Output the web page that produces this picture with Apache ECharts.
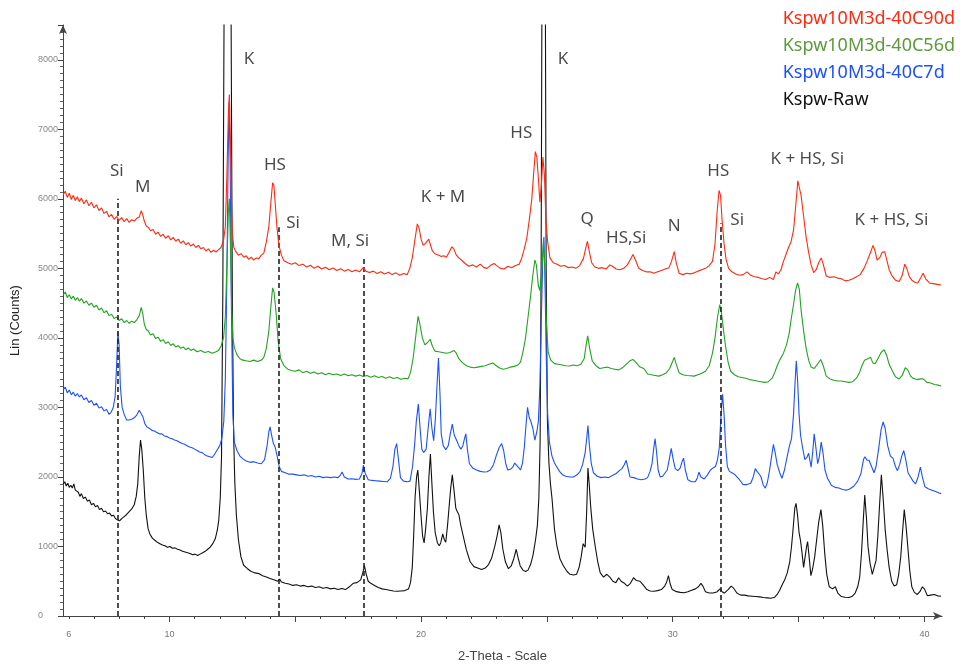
<!DOCTYPE html>
<html>
<head>
<meta charset="utf-8">
<title>XRD Kspw</title>
<script src="https://cdn.jsdelivr.net/npm/echarts@6/dist/echarts.min.js"></script>
<style>
  html, body { margin: 0; padding: 0; background: #fff; }
  #chart { width: 966px; height: 668px; }
</style>
</head>
<body>
<div id="chart"></div>
<script>
  // axis ticks / labels (2-Theta)
  const xLabelValues = [6, 10, 20, 30, 40];
  const xMajorTicks = [10, 15, 20, 25, 30, 35, 40];
  const xMinorTicks = [6, 7, 8, 9, 10, 11, 12, 13, 14, 15, 16, 17, 18, 19, 20, 21, 22, 23, 24, 25, 26, 27, 28, 29, 30, 31, 32, 33, 34, 35, 36, 37, 38, 39, 40];

  const seriesNames = ['Kspw10M3d-40C90d', 'Kspw10M3d-40C56d', 'Kspw10M3d-40C7d', 'Kspw-Raw'];

  // [2-Theta, counts]
  const red90d = [[5.78,6060],[5.86,6110],[5.94,6020],[6.02,6080],[6.1,5990],[6.18,6050],[6.26,5975],[6.34,6030],[6.42,5960],[6.5,6010],[6.6,5930],[6.7,5985],[6.8,5900],[6.9,5950],[7.0,5870],[7.1,5915],[7.2,5830],[7.3,5870],[7.4,5790],[7.5,5820],[7.6,5740],[7.7,5775],[7.8,5705],[7.9,5745],[8.0,5690],[8.1,5730],[8.2,5670],[8.3,5715],[8.4,5660],[8.5,5700],[8.6,5680],[8.7,5720],[8.8,5740],[8.88,5830],[8.94,5770],[9.0,5680],[9.08,5610],[9.16,5590],[9.25,5540],[9.35,5560],[9.45,5490],[9.55,5520],[9.65,5460],[9.75,5490],[9.85,5430],[9.95,5470],[10.05,5410],[10.15,5445],[10.25,5390],[10.35,5420],[10.45,5360],[10.55,5395],[10.65,5340],[10.75,5370],[10.85,5320],[10.95,5350],[11.05,5300],[11.15,5330],[11.25,5280],[11.35,5300],[11.45,5250],[11.55,5280],[11.65,5230],[11.75,5260],[11.85,5235],[11.95,5270],[12.05,5300],[12.15,5400],[12.22,5600],[12.28,6300],[12.34,7200],[12.38,7500],[12.42,6900],[12.46,6000],[12.5,5500],[12.56,5300],[12.64,5240],[12.74,5190],[12.85,5210],[12.95,5160],[13.05,5180],[13.15,5130],[13.25,5160],[13.35,5120],[13.45,5150],[13.55,5140],[13.65,5190],[13.75,5220],[13.85,5380],[13.95,5600],[14.03,5950],[14.1,6230],[14.15,6200],[14.2,5950],[14.27,5600],[14.35,5330],[14.45,5190],[14.55,5110],[14.7,5080],[14.85,5060],[15.0,5080],[15.15,5040],[15.3,5060],[15.45,5020],[15.6,5045],[15.75,5000],[15.9,5030],[16.05,4990],[16.2,5015],[16.35,4980],[16.5,5005],[16.65,4970],[16.8,4995],[16.95,4960],[17.1,4985],[17.25,4950],[17.4,4975],[17.55,4950],[17.7,5010],[17.8,4960],[17.95,4940],[18.1,4960],[18.25,4925],[18.4,4950],[18.55,4920],[18.7,4945],[18.85,4910],[19.0,4935],[19.15,4900],[19.3,4925],[19.45,4910],[19.55,5000],[19.65,5150],[19.75,5400],[19.85,5640],[19.92,5580],[20.0,5420],[20.08,5330],[20.18,5360],[20.3,5420],[20.36,5400],[20.45,5250],[20.55,5210],[20.7,5190],[20.8,5170],[20.9,5180],[21.0,5160],[21.1,5220],[21.22,5310],[21.3,5280],[21.4,5190],[21.5,5150],[21.6,5120],[21.75,5070],[21.9,5030],[22.05,5050],[22.2,5020],[22.35,5060],[22.5,5010],[22.62,5000],[22.75,5040],[22.9,5070],[23.0,5040],[23.15,5000],[23.3,4990],[23.45,5030],[23.6,5010],[23.75,5040],[23.9,5060],[24.0,5150],[24.1,5280],[24.2,5430],[24.3,5700],[24.4,6000],[24.47,6350],[24.54,6680],[24.6,6600],[24.66,6300],[24.72,5950],[24.78,6200],[24.84,6600],[24.9,6350],[24.96,5700],[25.03,5380],[25.12,5150],[25.25,5080],[25.4,5060],[25.55,5030],[25.7,5040],[25.85,5010],[26.0,5020],[26.15,5000],[26.3,5040],[26.45,5140],[26.55,5300],[26.61,5390],[26.68,5250],[26.78,5080],[26.9,5020],[27.05,5000],[27.2,5010],[27.35,4990],[27.5,5050],[27.6,5030],[27.75,4990],[27.9,4980],[28.05,5000],[28.2,5050],[28.32,5130],[28.42,5200],[28.52,5120],[28.65,5000],[28.8,4970],[28.95,4950],[29.1,4950],[29.25,4930],[29.4,4950],[29.55,4970],[29.7,4990],[29.85,5010],[29.95,5100],[30.06,5240],[30.14,5080],[30.25,4930],[30.4,4910],[30.55,4930],[30.7,4920],[30.85,4935],[31.0,4960],[31.15,4980],[31.3,5000],[31.45,5040],[31.58,5100],[31.68,5350],[31.76,5800],[31.84,6120],[31.9,6050],[31.96,5700],[32.04,5350],[32.12,5130],[32.22,5000],[32.35,4950],[32.5,4920],[32.65,4900],[32.8,4910],[32.95,4950],[33.1,4900],[33.25,4880],[33.4,4870],[33.55,4850],[33.7,4840],[33.85,4870],[34.0,4840],[34.1,4950],[34.2,4920],[34.3,4980],[34.4,5100],[34.5,5200],[34.6,5300],[34.7,5380],[34.8,5550],[34.9,5950],[34.97,6260],[35.03,6280],[35.1,6050],[35.2,5750],[35.3,5450],[35.4,5230],[35.5,5050],[35.6,4940],[35.7,4980],[35.8,5080],[35.9,5150],[35.98,5060],[36.1,4890],[36.25,4870],[36.4,4880],[36.55,4860],[36.7,4850],[36.85,4820],[37.0,4830],[37.15,4850],[37.3,4880],[37.45,4910],[37.6,5000],[37.72,5100],[37.85,5220],[37.96,5330],[38.04,5250],[38.12,5120],[38.22,5150],[38.32,5230],[38.42,5240],[38.5,5130],[38.6,4980],[38.7,4900],[38.85,4830],[39.0,4810],[39.12,4900],[39.22,5060],[39.3,5000],[39.4,4880],[39.5,4830],[39.62,4800],[39.74,4790],[39.85,4860],[39.95,4930],[40.05,4850],[40.2,4790],[40.35,4780],[40.5,4770],[40.66,4760]];

  const green56d = [[5.78,4620],[5.86,4660],[5.94,4580],[6.02,4620],[6.1,4560],[6.18,4600],[6.26,4540],[6.34,4580],[6.42,4530],[6.5,4565],[6.6,4500],[6.7,4530],[6.8,4470],[6.9,4500],[7.0,4440],[7.1,4470],[7.2,4400],[7.3,4430],[7.4,4360],[7.5,4390],[7.6,4320],[7.7,4340],[7.8,4280],[7.9,4300],[8.0,4250],[8.1,4275],[8.2,4220],[8.3,4250],[8.4,4210],[8.5,4240],[8.6,4220],[8.7,4260],[8.8,4320],[8.88,4440],[8.94,4350],[9.0,4200],[9.08,4120],[9.16,4100],[9.25,4040],[9.35,4060],[9.45,3990],[9.55,4010],[9.65,3950],[9.75,3975],[9.85,3920],[9.95,3945],[10.05,3890],[10.15,3915],[10.25,3870],[10.35,3890],[10.45,3850],[10.55,3870],[10.65,3830],[10.75,3855],[10.85,3820],[10.95,3840],[11.1,3800],[11.25,3820],[11.4,3790],[11.55,3805],[11.7,3780],[11.85,3800],[11.95,3820],[12.05,3880],[12.15,4000],[12.22,4300],[12.28,5000],[12.34,5800],[12.38,6000],[12.42,5400],[12.47,4500],[12.52,4000],[12.58,3860],[12.68,3760],[12.8,3700],[12.92,3680],[13.05,3670],[13.2,3660],[13.35,3680],[13.5,3660],[13.65,3680],[13.75,3720],[13.85,3850],[13.95,4100],[14.03,4450],[14.1,4720],[14.16,4650],[14.24,4350],[14.32,3950],[14.42,3700],[14.55,3600],[14.7,3550],[14.85,3530],[15.0,3520],[15.15,3540],[15.3,3500],[15.45,3520],[15.6,3490],[15.75,3510],[15.9,3480],[16.05,3500],[16.2,3470],[16.35,3490],[16.5,3470],[16.65,3480],[16.8,3460],[16.95,3480],[17.1,3455],[17.25,3470],[17.4,3450],[17.55,3465],[17.7,3445],[17.85,3460],[18.0,3435],[18.15,3455],[18.3,3430],[18.45,3445],[18.6,3420],[18.75,3440],[18.9,3415],[19.05,3430],[19.2,3405],[19.35,3420],[19.48,3410],[19.58,3500],[19.68,3700],[19.78,4000],[19.88,4310],[19.95,4200],[20.05,4000],[20.15,3900],[20.25,3930],[20.36,3980],[20.45,3880],[20.55,3810],[20.7,3800],[20.85,3790],[21.0,3780],[21.15,3790],[21.3,3820],[21.4,3780],[21.5,3700],[21.65,3640],[21.8,3600],[21.95,3580],[22.1,3570],[22.25,3580],[22.4,3590],[22.55,3600],[22.7,3620],[22.85,3640],[22.95,3610],[23.1,3570],[23.25,3550],[23.4,3560],[23.55,3580],[23.7,3590],[23.85,3610],[23.95,3650],[24.05,3800],[24.15,4000],[24.25,4300],[24.35,4600],[24.44,4900],[24.52,5120],[24.58,5050],[24.66,4750],[24.72,4680],[24.8,5000],[24.86,5400],[24.92,5000],[24.98,4200],[25.05,3800],[25.15,3680],[25.3,3630],[25.45,3620],[25.6,3610],[25.75,3600],[25.9,3595],[26.05,3610],[26.2,3600],[26.35,3620],[26.48,3700],[26.56,3900],[26.62,4030],[26.7,3850],[26.8,3670],[26.95,3600],[27.1,3560],[27.25,3570],[27.4,3580],[27.55,3560],[27.7,3550],[27.85,3540],[28.0,3570],[28.15,3620],[28.3,3670],[28.42,3690],[28.55,3640],[28.7,3580],[28.85,3560],[29.0,3480],[29.15,3470],[29.3,3460],[29.45,3450],[29.6,3470],[29.75,3500],[29.88,3560],[29.98,3650],[30.06,3720],[30.14,3620],[30.25,3500],[30.4,3470],[30.55,3460],[30.7,3455],[30.85,3450],[31.0,3470],[31.15,3490],[31.3,3520],[31.45,3600],[31.58,3780],[31.68,4000],[31.78,4300],[31.87,4480],[31.94,4350],[32.02,4100],[32.1,3880],[32.2,3650],[32.3,3520],[32.45,3470],[32.6,3440],[32.75,3430],[32.9,3420],[33.05,3400],[33.2,3390],[33.35,3380],[33.5,3370],[33.65,3360],[33.8,3370],[33.95,3420],[34.05,3500],[34.15,3600],[34.25,3680],[34.4,3780],[34.52,3900],[34.62,4050],[34.72,4300],[34.8,4480],[34.88,4680],[34.96,4790],[35.03,4700],[35.1,4400],[35.2,4100],[35.3,3850],[35.4,3680],[35.5,3580],[35.62,3560],[35.75,3620],[35.88,3690],[35.98,3600],[36.1,3450],[36.25,3410],[36.4,3390],[36.55,3380],[36.7,3380],[36.85,3370],[37.0,3360],[37.15,3370],[37.3,3420],[37.42,3500],[37.52,3600],[37.62,3680],[37.75,3700],[37.86,3720],[37.95,3640],[38.05,3630],[38.15,3700],[38.28,3790],[38.4,3830],[38.5,3750],[38.6,3620],[38.72,3530],[38.85,3440],[39.0,3410],[39.12,3460],[39.24,3570],[39.34,3540],[39.45,3450],[39.55,3420],[39.7,3400],[39.85,3410],[39.95,3410],[40.1,3360],[40.25,3350],[40.4,3330],[40.55,3320],[40.66,3310]];

  const blue7d = [[5.78,3260],[5.86,3290],[5.94,3210],[6.02,3250],[6.1,3180],[6.18,3220],[6.26,3160],[6.34,3200],[6.42,3150],[6.5,3180],[6.6,3110],[6.7,3140],[6.8,3070],[6.9,3100],[7.0,3030],[7.1,3060],[7.2,2990],[7.3,3010],[7.4,2950],[7.5,2970],[7.6,2900],[7.68,2930],[7.76,2990],[7.84,3150],[7.9,3600],[7.95,4080],[8.0,3900],[8.05,3300],[8.12,3000],[8.2,2900],[8.3,2820],[8.4,2820],[8.5,2830],[8.6,2850],[8.7,2890],[8.8,2960],[8.86,2980],[8.94,2870],[9.02,2770],[9.1,2720],[9.2,2700],[9.3,2670],[9.4,2660],[9.5,2640],[9.6,2620],[9.7,2620],[9.8,2590],[9.9,2580],[10.0,2560],[10.1,2550],[10.2,2530],[10.3,2520],[10.4,2500],[10.5,2480],[10.6,2470],[10.7,2450],[10.8,2430],[10.9,2420],[11.0,2400],[11.1,2380],[11.2,2360],[11.3,2350],[11.4,2320],[11.5,2300],[11.6,2290],[11.7,2280],[11.8,2330],[11.9,2390],[12.0,2450],[12.08,2550],[12.16,2800],[12.22,3400],[12.28,4800],[12.33,6500],[12.37,7400],[12.41,6600],[12.46,4500],[12.52,2900],[12.58,2500],[12.68,2380],[12.8,2300],[12.92,2260],[13.05,2230],[13.2,2210],[13.35,2220],[13.5,2200],[13.65,2190],[13.78,2250],[13.88,2450],[13.95,2650],[14.0,2720],[14.06,2600],[14.13,2480],[14.2,2430],[14.28,2300],[14.36,2150],[14.45,2080],[14.6,2060],[14.75,2040],[14.9,2040],[15.05,2030],[15.2,2020],[15.35,2030],[15.5,2010],[15.65,2020],[15.8,2000],[15.95,2010],[16.1,1990],[16.25,2000],[16.4,1990],[16.55,2000],[16.7,1990],[16.8,2030],[16.86,2070],[16.95,2000],[17.1,1970],[17.25,1975],[17.4,1965],[17.55,1970],[17.65,2050],[17.71,2170],[17.78,2050],[17.9,1960],[18.05,1950],[18.2,1945],[18.35,1940],[18.5,1935],[18.65,1930],[18.78,1980],[18.88,2150],[18.96,2400],[19.03,2480],[19.1,2250],[19.18,1990],[19.3,1940],[19.45,1930],[19.56,1940],[19.66,2150],[19.74,2450],[19.81,2800],[19.89,3050],[19.96,2700],[20.03,2400],[20.1,2350],[20.2,2400],[20.28,2700],[20.36,2980],[20.43,2700],[20.5,2520],[20.57,2850],[20.63,3300],[20.69,3710],[20.75,3200],[20.8,2620],[20.88,2450],[20.98,2390],[21.08,2450],[21.16,2620],[21.24,2760],[21.32,2600],[21.42,2520],[21.5,2450],[21.58,2400],[21.66,2450],[21.73,2560],[21.78,2620],[21.84,2400],[21.92,2190],[22.05,2130],[22.2,2100],[22.35,2080],[22.5,2070],[22.62,2075],[22.75,2100],[22.88,2180],[22.98,2300],[23.1,2420],[23.2,2480],[23.28,2380],[23.36,2200],[23.44,2100],[23.55,2110],[23.64,2140],[23.72,2200],[23.79,2220],[23.86,2140],[23.95,2100],[24.03,2200],[24.1,2420],[24.17,2750],[24.23,3000],[24.3,2850],[24.36,2800],[24.44,2700],[24.52,2530],[24.6,2650],[24.66,2800],[24.72,3300],[24.78,4300],[24.84,5200],[24.88,5450],[24.92,4900],[24.97,3800],[25.03,2900],[25.1,2500],[25.2,2300],[25.3,2200],[25.4,2140],[25.5,2080],[25.62,2030],[25.75,2010],[25.9,2000],[26.05,2000],[26.2,2030],[26.32,2080],[26.42,2180],[26.52,2350],[26.58,2550],[26.63,2740],[26.69,2450],[26.76,2200],[26.85,2060],[27.0,2010],[27.15,1990],[27.3,2000],[27.45,1990],[27.6,2020],[27.75,2050],[27.88,2090],[27.98,2120],[28.08,2180],[28.15,2240],[28.22,2130],[28.3,2000],[28.45,1990],[28.6,1970],[28.75,1960],[28.9,1970],[29.0,1990],[29.1,2080],[29.18,2200],[29.24,2400],[29.3,2550],[29.36,2350],[29.42,2100],[29.5,2000],[29.6,2010],[29.7,2060],[29.78,2100],[29.86,2250],[29.94,2410],[30.02,2250],[30.1,2120],[30.2,2090],[30.3,2130],[30.38,2230],[30.43,2270],[30.5,2100],[30.6,1960],[30.75,1930],[30.9,1930],[30.98,1990],[31.04,2070],[31.12,2000],[31.25,1970],[31.38,2030],[31.5,2100],[31.6,2130],[31.7,2150],[31.78,2250],[31.85,2420],[31.92,2900],[31.98,3190],[32.04,2900],[32.1,2450],[32.17,2150],[32.25,2080],[32.35,2060],[32.45,2040],[32.55,2000],[32.65,1960],[32.8,1890],[32.95,1890],[33.1,1910],[33.2,2000],[33.28,2120],[33.35,2080],[33.42,2100],[33.5,2010],[33.6,1880],[33.68,1840],[33.76,1920],[33.85,2100],[33.93,2300],[34.0,2470],[34.07,2350],[34.15,2180],[34.25,2060],[34.34,1980],[34.44,2100],[34.54,2280],[34.64,2450],[34.72,2550],[34.8,2900],[34.86,3350],[34.91,3670],[34.96,3400],[35.02,2900],[35.08,2600],[35.16,2420],[35.25,2250],[35.33,2280],[35.4,2340],[35.46,2220],[35.5,2140],[35.56,2350],[35.62,2620],[35.68,2450],[35.76,2190],[35.83,2300],[35.9,2500],[35.97,2350],[36.05,2100],[36.15,1980],[36.3,1880],[36.45,1850],[36.6,1840],[36.75,1820],[36.9,1810],[37.05,1830],[37.2,1870],[37.35,1940],[37.48,2050],[37.58,2250],[37.64,2290],[37.72,2240],[37.8,2240],[37.9,2150],[38.0,2060],[38.08,2150],[38.18,2400],[38.28,2680],[38.36,2790],[38.44,2700],[38.54,2450],[38.65,2300],[38.75,2270],[38.85,2150],[38.93,2090],[39.02,2180],[39.1,2300],[39.18,2380],[39.26,2250],[39.35,2060],[39.45,2000],[39.55,1940],[39.65,1900],[39.75,2000],[39.84,2140],[39.92,2000],[40.02,1860],[40.15,1830],[40.3,1810],[40.45,1790],[40.58,1770],[40.66,1760]];

  const blackRaw = [[5.78,1900],[5.84,1930],[5.9,1870],[5.96,1910],[6.02,1850],[6.08,1880],[6.14,1840],[6.2,1900],[6.26,1810],[6.32,1790],[6.38,1780],[6.44,1720],[6.5,1760],[6.58,1690],[6.66,1710],[6.74,1650],[6.82,1670],[6.9,1600],[6.98,1620],[7.06,1570],[7.14,1590],[7.22,1530],[7.3,1550],[7.38,1500],[7.46,1510],[7.54,1470],[7.62,1480],[7.7,1440],[7.78,1450],[7.86,1400],[7.94,1380],[8.02,1370],[8.1,1400],[8.2,1430],[8.3,1460],[8.4,1500],[8.5,1540],[8.6,1600],[8.68,1720],[8.74,1900],[8.8,2300],[8.85,2530],[8.9,2400],[8.96,2100],[9.02,1700],[9.08,1450],[9.15,1260],[9.22,1180],[9.32,1120],[9.42,1090],[9.52,1060],[9.62,1040],[9.72,1020],[9.82,1010],[9.92,990],[10.02,1000],[10.12,975],[10.22,980],[10.32,960],[10.42,950],[10.52,930],[10.62,920],[10.72,910],[10.82,900],[10.92,880],[11.02,890],[11.12,870],[11.22,890],[11.32,910],[11.42,930],[11.52,960],[11.62,990],[11.72,1040],[11.82,1110],[11.9,1230],[11.96,1380],[12.02,1700],[12.07,2300],[12.12,4600],[12.17,8600],[12.31,20000],[12.45,8600],[12.5,4500],[12.55,2600],[12.6,1900],[12.66,1450],[12.74,1100],[12.84,850],[12.95,730],[13.1,680],[13.25,640],[13.4,620],[13.55,610],[13.7,580],[13.85,560],[14.0,540],[14.15,520],[14.3,500],[14.38,530],[14.45,490],[14.6,470],[14.75,460],[14.9,440],[15.05,450],[15.2,430],[15.35,440],[15.5,420],[15.65,430],[15.8,410],[15.95,420],[16.1,400],[16.25,410],[16.4,390],[16.55,400],[16.7,380],[16.85,395],[17.0,380],[17.15,420],[17.3,470],[17.45,480],[17.6,520],[17.68,620],[17.75,720],[17.82,600],[17.9,500],[18.0,470],[18.15,440],[18.3,410],[18.45,390],[18.6,380],[18.75,370],[18.9,360],[19.05,355],[19.2,360],[19.35,365],[19.5,390],[19.58,480],[19.65,700],[19.71,1200],[19.76,1700],[19.82,2000],[19.87,2100],[19.93,1800],[20.0,1430],[20.06,1150],[20.12,1050],[20.18,1250],[20.25,1550],[20.31,2000],[20.37,2330],[20.43,1900],[20.49,1500],[20.56,1200],[20.65,1050],[20.72,1010],[20.78,1050],[20.86,1180],[20.92,1100],[20.98,1060],[21.05,1300],[21.12,1600],[21.18,1850],[21.24,2030],[21.31,1800],[21.38,1550],[21.44,1500],[21.5,1460],[21.58,1300],[21.68,1140],[21.8,950],[21.95,780],[22.1,710],[22.25,690],[22.4,670],[22.55,690],[22.68,740],[22.8,830],[22.92,990],[23.02,1150],[23.1,1310],[23.17,1200],[23.25,960],[23.35,780],[23.47,680],[23.58,720],[23.68,820],[23.78,960],[23.86,830],[23.94,720],[24.05,660],[24.15,640],[24.25,660],[24.35,740],[24.45,880],[24.55,1100],[24.62,1300],[24.68,1700],[24.73,2500],[24.77,5000],[24.8,8700],[24.87,20000],[24.94,8700],[24.97,5000],[25.02,2800],[25.08,2200],[25.14,1900],[25.2,1700],[25.3,1250],[25.4,1000],[25.52,820],[25.66,720],[25.8,640],[25.92,600],[26.05,590],[26.18,600],[26.28,700],[26.36,850],[26.44,1040],[26.52,990],[26.58,1500],[26.63,2130],[26.68,1900],[26.74,1570],[26.82,1250],[26.92,1000],[27.02,780],[27.12,620],[27.25,560],[27.38,600],[27.5,560],[27.62,500],[27.74,480],[27.85,550],[27.95,500],[28.08,470],[28.2,430],[28.32,470],[28.44,550],[28.56,510],[28.7,500],[28.84,440],[28.97,380],[29.1,360],[29.25,355],[29.4,365],[29.55,380],[29.68,430],[29.76,490],[29.83,580],[29.9,460],[29.98,380],[30.15,350],[30.3,340],[30.45,335],[30.6,350],[30.75,370],[30.9,390],[31.02,420],[31.12,470],[31.2,430],[31.3,350],[31.45,330],[31.6,330],[31.75,345],[31.88,390],[31.96,350],[32.05,330],[32.2,380],[32.32,430],[32.42,400],[32.55,330],[32.7,300],[32.85,300],[33.0,290],[33.15,285],[33.3,280],[33.45,275],[33.6,265],[33.75,260],[33.9,255],[34.05,270],[34.15,310],[34.25,370],[34.35,450],[34.45,520],[34.55,620],[34.65,780],[34.72,1000],[34.78,1240],[34.85,1550],[34.9,1620],[34.96,1450],[35.02,1200],[35.08,1080],[35.14,900],[35.2,700],[35.26,850],[35.32,1000],[35.36,1070],[35.42,850],[35.49,580],[35.56,680],[35.64,850],[35.72,1100],[35.8,1350],[35.89,1530],[35.96,1300],[36.04,900],[36.12,600],[36.22,420],[36.35,390],[36.46,420],[36.56,330],[36.7,280],[36.85,270],[37.0,265],[37.12,280],[37.25,330],[37.35,420],[37.43,560],[37.5,900],[37.56,1300],[37.63,1740],[37.7,1400],[37.76,1000],[37.84,760],[37.93,600],[38.0,580],[38.08,800],[38.15,1150],[38.22,1600],[38.29,2030],[38.36,1700],[38.44,1250],[38.52,950],[38.6,700],[38.7,500],[38.8,430],[38.9,450],[38.98,600],[39.06,850],[39.13,1200],[39.2,1530],[39.27,1300],[39.34,1000],[39.42,650],[39.5,420],[39.6,340],[39.72,310],[39.82,350],[39.92,420],[40.0,390],[40.12,290],[40.25,300],[40.4,310],[40.52,290],[40.66,285]];

  // dashed reference lines (2-Theta, top in counts)
  const dashX = [7.96, 14.33, 17.72, 31.89];
  const dashTop = [6000, 5590, 5150, 5650];

  // peak labels
  const noteText = ['Si', 'M', 'K', 'HS', 'Si', 'M, Si', 'K + M', 'HS', 'K', 'Q', 'HS,Si', 'N', 'HS', 'Si', 'K + HS, Si', 'K + HS, Si'];
  const noteX = [7.91, 8.94, 13.16, 14.19, 14.91, 17.18, 20.87, 23.98, 25.64, 26.6, 28.15, 30.06, 31.81, 32.56, 35.35, 38.69];
  const noteY = [6402, 6173, 8002, 6487, 5645, 5387, 6030, 6945, 8002, 5702, 5430, 5602, 6402, 5687, 6573, 5687];

  const lineColors = ['#ff2a10', '#22a322', '#1c50ff', '#111111'];
  const legendColors = ['#ff2a10', '#5c9a3c', '#1c50ff', '#111111'];

  let chart = echarts.init(document.getElementById('chart'));

  let xMin = 5.77, xMax = 40.7;

  function lineSeries(name, data, color, z) {
    return {
      name: name,
      type: 'line',
      data: data,
      showSymbol: false,
      symbol: 'none',
      z: z,
      lineStyle: { color: color, width: 1.1 },
      itemStyle: { color: color },
      silent: true
    };
  }

  let series = [
    lineSeries(seriesNames[3], blackRaw, lineColors[3], 2),
    lineSeries(seriesNames[2], blue7d, lineColors[2], 3),
    lineSeries(seriesNames[1], green56d, lineColors[1], 4),
    lineSeries(seriesNames[0], red90d, lineColors[0], 5)
  ];

  // dashed vertical markers drawn with the top series
  series[3].markLine = {
    silent: true,
    symbol: ['none', 'none'],
    label: { show: false },
    lineStyle: { type: [5, 3], color: '#222', width: 1.6 },
    data: dashX.map((x, i) => [{ coord: [x, 0] }, { coord: [x, dashTop[i]] }])
  };

  series.push({
    type: 'scatter',
    name: 'notes',
    silent: true,
    z: 10,
    symbolSize: 1,
    itemStyle: { color: 'rgba(0,0,0,0)' },
    data: noteText.map((t, i) => ({ name: t, value: [noteX[i], noteY[i]] })),
    label: {
      show: true,
      position: 'inside',
      formatter: p => p.name,
      color: '#1a1a1a',
      fontSize: 17,
      fontFamily: 'Noto Sans'
    }
  });

  let option = {
    animation: false,
    backgroundColor: '#fff',
    grid: { left: 63, right: 24, top: 25, bottom: 48 },
    legend: {
      orient: 'vertical',
      right: 6,
      top: 5,
      icon: 'none',
      itemWidth: 0,
      itemHeight: 10,
      itemGap: 9,
      selectedMode: false,
      textStyle: { fontSize: 18, fontFamily: 'Noto Sans' },
      data: seriesNames.map((n, i) => ({ name: n, textStyle: { color: legendColors[i] } }))
    },
    xAxis: [
      {
        type: 'value',
        min: xMin,
        max: xMax,
        name: '2-Theta - Scale',
        nameLocation: 'middle',
        nameGap: 34,
        nameTextStyle: { fontSize: 13, color: '#444', fontFamily: 'Liberation Sans' },
        axisLine: { show: true, symbol: ['none', 'arrow'], symbolSize: [6, 9], lineStyle: { color: '#444', width: 1 } },
        axisTick: { show: true, customValues: xMajorTicks, length: 6, lineStyle: { color: '#444' } },
        axisLabel: { customValues: xLabelValues, fontSize: 9, color: '#777', margin: 14, fontFamily: 'Liberation Sans' },
        splitLine: { show: false }
      },
      {
        type: 'value',
        min: xMin,
        max: xMax,
        position: 'bottom',
        axisLine: { show: false },
        axisTick: { show: true, customValues: xMinorTicks, length: 3, lineStyle: { color: '#444' } },
        axisLabel: { show: false },
        splitLine: { show: false }
      }
    ],
    yAxis: {
      type: 'value',
      min: 0,
      max: 8500,
      interval: 1000,
      name: 'Lin (Counts)',
      nameLocation: 'middle',
      nameGap: 41,
      nameTextStyle: { fontSize: 13, color: '#222', fontFamily: 'Liberation Sans' },
      axisLine: { show: true, symbol: ['none', 'arrow'], symbolSize: [6, 9], lineStyle: { color: '#444', width: 1 } },
      axisTick: { show: true, length: 5, lineStyle: { color: '#444' } },
      minorTick: { show: true, splitNumber: 10, length: 3, lineStyle: { color: '#666' } },
      axisLabel: { fontSize: 9, color: '#888', align: 'left', margin: 25, showMaxLabel: false, fontFamily: 'Liberation Sans', formatter: v => String(v) },
      splitLine: { show: false }
    },
    series: series
  };

  chart.setOption(option);
</script>
</body>
</html>
